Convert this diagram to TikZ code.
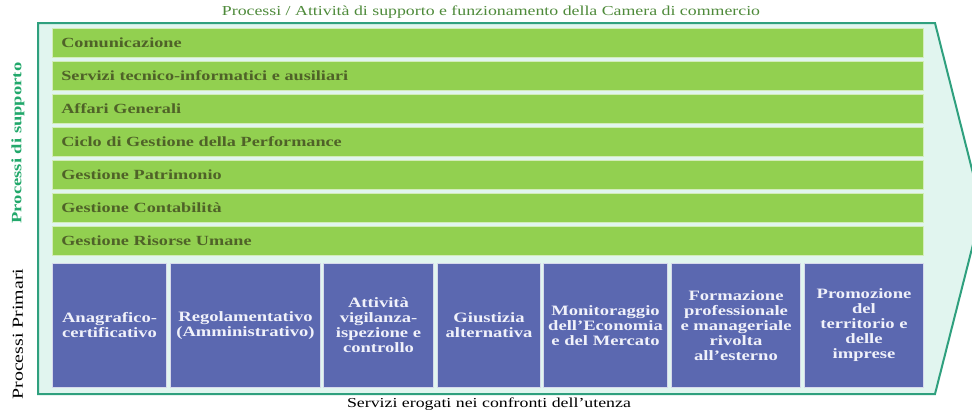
\documentclass[tikz,border=0pt]{standalone}
\usepackage{fontspec}
\setmainfont[FakeStretch=1.3]{Liberation Serif}
\definecolor{barg}{HTML}{92D050}
\definecolor{bartxt}{HTML}{4F6228}
\definecolor{boxb}{HTML}{5B68B0}
\definecolor{boxtxt}{HTML}{F0F1FA}
\definecolor{teal}{HTML}{2FA07E}
\definecolor{mint}{HTML}{E1F5EF}
\definecolor{ttlg}{HTML}{4E8A3A}
\definecolor{supg}{HTML}{22A86B}
\tikzset{
  bar/.style={rectangle, fill=barg, draw=white!60!barg, line width=0.6pt, anchor=north west,
    minimum width=871pt, minimum height=29pt, inner xsep=9pt, inner ysep=0pt,
    text width=853pt, align=left, text=bartxt, font=\fontsize{14}{16}\selectfont\bfseries},
  bluebox/.style={rectangle, fill=boxb, draw=white!75!boxb, line width=1pt, anchor=north west,
    minimum height=124pt, inner sep=0pt, align=center, text=boxtxt,
    font=\fontsize{14.3}{15}\selectfont\bfseries},
}
\begin{document}
\begin{tikzpicture}[x=1pt,y=-1pt]
\useasboundingbox (0,0) rectangle (972,416);
\fill[white] (0,0) rectangle (972,416);
\begin{scope}
\clip (0,0) rectangle (972,416);
\draw[fill=mint, draw=teal, line width=2pt, line join=miter]
  (38,23) -- (935,23) -- (982,209) -- (935,394) -- (38,394) -- cycle;
\end{scope}
\node[text=ttlg, font=\fontsize{13.7}{15}\selectfont] (title) at (491,12)
  {Processi / Attività di supporto e funzionamento della Camera di commercio};
\node[text=black, font=\fontsize{13.7}{15}\selectfont] (bottom) at (489,404)
  {Servizi erogati nei confronti dell'utenza};
\node[text=supg, rotate=90, font=\fontsize{14.3}{17}\selectfont\bfseries] (lsup) at (18,143) {Processi di supporto};
\node[text=black, rotate=90, font=\fontsize{15.3}{17}\selectfont] (lpri) at (18,334) {Processi Primari};
\node[bar] (b1) at (52,28) {Comunicazione};
\node[bar] (b2) at (52,61) {Servizi tecnico-informatici e ausiliari};
\node[bar] (b3) at (52,94) {Affari Generali};
\node[bar] (b4) at (52,127) {Ciclo di Gestione della Performance};
\node[bar] (b5) at (52,160) {Gestione Patrimonio};
\node[bar] (b6) at (52,193) {Gestione Contabilità};
\node[bar] (b7) at (52,226) {Gestione Risorse Umane};
\node[bluebox, minimum width=114pt] (p1) at (52,263) {Anagrafico-\\certificativo};
\node[bluebox, minimum width=150pt] (p2) at (170,263) {Regolamentativo\\(Amministrativo)};
\node[bluebox, minimum width=110pt] (p3) at (323,263) {Attività\\vigilanza-\\ispezione e\\controllo};
\node[bluebox, minimum width=103pt] (p4) at (437,263) {Giustizia\\alternativa};
\node[bluebox, minimum width=124pt] (p5) at (543,263) {Monitoraggio\\dell'Economia\\e del Mercato};
\node[bluebox, minimum width=129pt] (p6) at (671,263) {Formazione\\professionale\\e manageriale\\rivolta\\all'esterno};
\node[bluebox, minimum width=119pt] (p7) at (804,263) {Promozione\\del\\territorio e\\delle\\imprese};
\end{tikzpicture}
\end{document}
